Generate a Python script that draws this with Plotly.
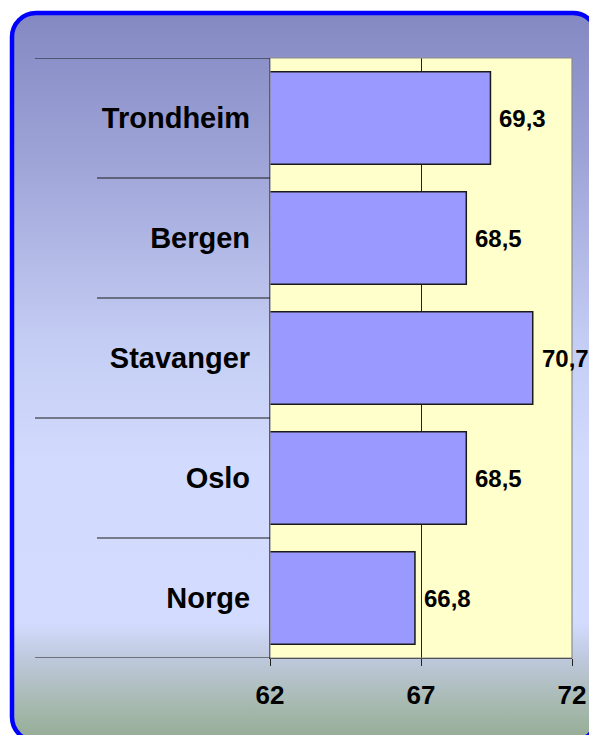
import base64
import plotly.graph_objects as go

# ---- data ----
categories = ["Norge", "Oslo", "Stavanger", "Bergen", "Trondheim"]
values = [66.8, 68.5, 70.7, 68.5, 69.3]
value_labels = ["66,8", "68,5", "70,7", "68,5", "69,3"]
tick_values = [62, 67, 72]
tick_labels = ["62", "67", "72"]

# the page shows the figure with an 8px body margin, so the figure is 8px smaller
OFF = 8
W, H = 597 - OFF, 735 - OFF
L, R, T, B = 270 - OFF, 25, 58 - OFF, 77
PW, PH = W - L - R, H - T - B

# background frame (gradient + rounded blue border) as an SVG image
svg = f'''<svg xmlns="http://www.w3.org/2000/svg" width="{W}" height="{H}" viewBox="0 0 {W} {H}">
<defs><linearGradient id="g" gradientUnits="userSpaceOnUse" x1="0" y1="{5-OFF}" x2="0" y2="{740-OFF}">
<stop offset="0" stop-color="#8287C1"/>
<stop offset="0.20" stop-color="#9DA2D6"/>
<stop offset="0.45" stop-color="#C3CCF3"/>
<stop offset="0.62" stop-color="#D2DBFD"/>
<stop offset="0.84" stop-color="#D3DCFE"/>
<stop offset="0.89" stop-color="#BEC8DC"/>
<stop offset="0.946" stop-color="#A9BBB4"/>
<stop offset="1" stop-color="#94AC94"/>
</linearGradient></defs>
<rect x="{12-OFF}" y="{13-OFF}" width="585" height="728" rx="24" ry="24" fill="url(#g)" stroke="#0000FF" stroke-width="4.5"/>
</svg>'''
src = "data:image/svg+xml;base64," + base64.b64encode(svg.encode()).decode()

fig = go.Figure()

fig.add_trace(go.Bar(
    y=categories, x=values, orientation="h",
    marker=dict(color="#9999FF", line=dict(color="#1a1a1a", width=1.5)),
    width=0.77, hoverinfo="skip",
))

for cat, v, lab in zip(categories, values, value_labels):
    fig.add_annotation(
        x=v, y=cat, xref="x", yref="y", text=lab, showarrow=False,
        xanchor="left", yanchor="middle", xshift=7,
        font=dict(family="Liberation Sans", size=24, color="black", weight="bold"),
    )

fig.add_layout_image(dict(
    source=src, xref="paper", yref="paper",
    x=-L / PW, y=1 + T / PH, sizex=W / PW, sizey=H / PH,
    xanchor="left", yanchor="top", sizing="stretch", layer="below",
))

# yellow plot background
fig.add_shape(type="rect", xref="paper", yref="paper", x0=0, x1=1, y0=0, y1=1,
              fillcolor="#FFFFCC", line=dict(width=0), layer="below")
# gray frame on top / right
fig.add_shape(type="rect", xref="paper", yref="paper", x0=0, x1=1, y0=0, y1=1,
              fillcolor="rgba(0,0,0,0)", line=dict(color="#8c8c8c", width=1.2), layer="above")

# category separator lines extending to the left
long_start = (35 - 270) / PW
short_start = (97 - 270) / PW
for i in range(len(categories) + 1):
    yb = i - 0.5
    x0 = long_start if i in (0, 2, 5) else short_start
    fig.add_shape(type="line", xref="paper", yref="y", x0=x0, x1=0, y0=yb, y1=yb,
                  line=dict(color="#1a1a1a", width=1.2), layer="above")

fig.update_layout(
    width=W, height=H,
    margin=dict(l=L, r=R, t=T, b=B),
    paper_bgcolor="white", plot_bgcolor="rgba(0,0,0,0)",
    showlegend=False, bargap=0.23,
    font=dict(family="Liberation Sans", color="black"),
)
fig.update_xaxes(
    range=[62, 72], tickvals=tick_values, ticktext=tick_labels,
    showgrid=True, gridcolor="#222222", gridwidth=1,
    showline=True, linecolor="#1a1a1a", linewidth=1.2,
    ticks="outside", ticklen=7, tickcolor="#222222",
    tickfont=dict(family="Liberation Sans", size=26, color="black", weight="bold"),
    ticklabelstandoff=7, zeroline=False, fixedrange=True,
)
fig.update_yaxes(
    categoryorder="array", categoryarray=categories,
    showgrid=False, showline=True, linecolor="#1a1a1a", linewidth=1.2,
    ticks="", ticklabelstandoff=13,
    tickfont=dict(family="Liberation Sans", size=29, color="black", weight="bold"),
    range=[-0.5, 4.5], fixedrange=True,
)

fig.write_html("out.html")
